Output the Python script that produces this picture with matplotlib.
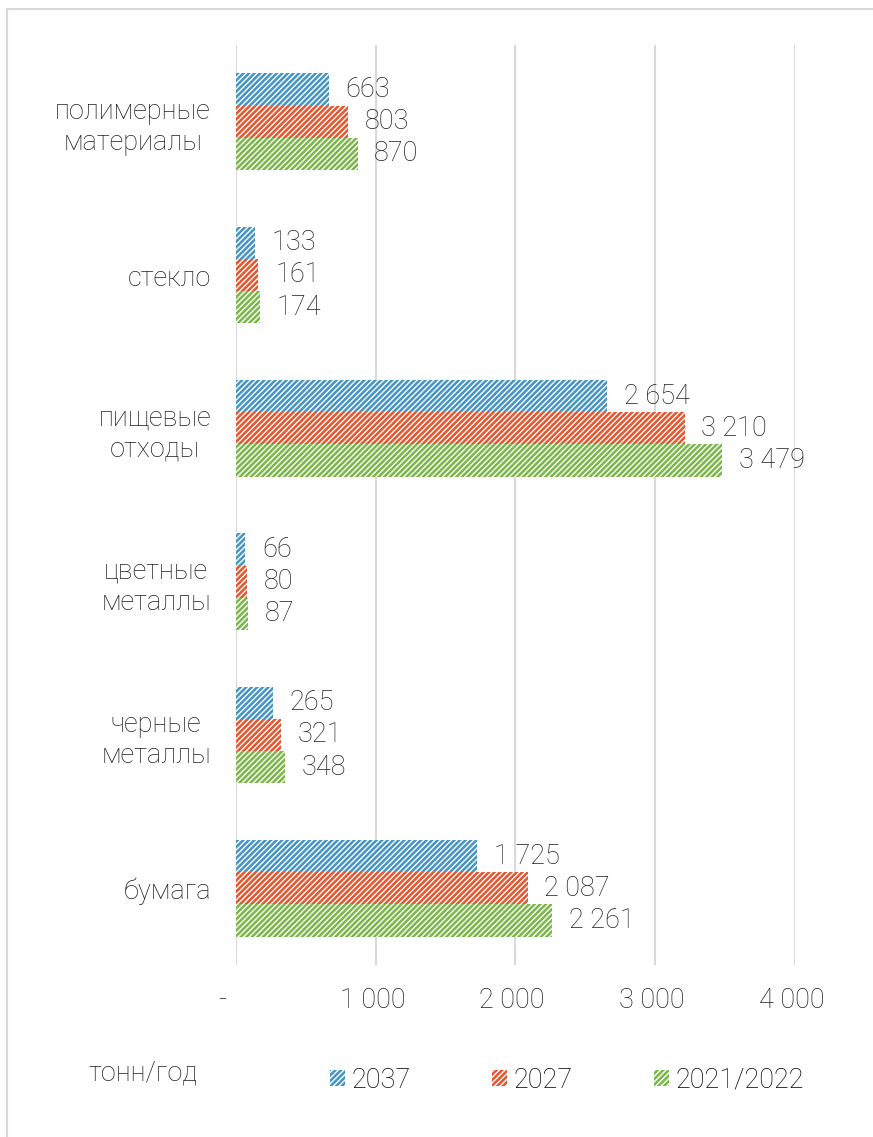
import matplotlib
matplotlib.use("Agg")
import matplotlib.pyplot as plt
import numpy as np
from matplotlib.patches import Patch, Rectangle

plt.rcParams['font.family'] = ['Roboto', 'DejaVu Sans']
plt.rcParams['font.weight'] = 'light'
plt.rcParams['hatch.linewidth'] = 1.8

categories = ["полимерные\nматериалы", "стекло", "пищевые\nотходы",
              "цветные\nметаллы", "черные\nметаллы", "бумага"]
series_names = ["2037", "2027", "2021/2022"]
values_2037 = [663, 133, 2654, 66, 265, 1725]
values_2027 = [803, 161, 3210, 80, 321, 2087]
values_2021 = [870, 174, 3479, 87, 348, 2261]
xticks = [0, 1000, 2000, 3000, 4000]
xtick_labels = ["-    ", "1 000 ", "2 000 ", "3 000 ", "4 000 "]
unit_label = "тонн/год"

colors = ["#4495c6", "#e8542b", "#7ab648"]
series = [values_2037, values_2027, values_2021]
FS = 19.5
TXT = "#1f1f1f"

def fmt(v):
    return f"{v:,}".replace(",", " ")

fig = plt.figure(figsize=(8.73, 11.37), dpi=100)
fig.patches.append(Rectangle((7/873, -0.05), 1.2, 1 - 9/1137 + 0.05, transform=fig.transFigure,
                             fill=False, edgecolor="#d9d9d9", linewidth=1.5, zorder=0))

ax = fig.add_axes([236/873, 1 - 965/1137, 559/873, 920/1137])
y = np.arange(len(categories))
h = 0.21
offsets = [-h, 0, h]
for vals, col, off, name in zip(series, colors, offsets, series_names):
    bars = ax.barh(y + off, vals, height=h, facecolor="white", edgecolor=col,
                   linewidth=0, hatch="//////", label=name, zorder=2)
    for b, v in zip(bars, vals):
        ax.annotate(fmt(v), (b.get_width(), b.get_y() + b.get_height() / 2),
                    xytext=(12, 0), textcoords="offset points", ha="left", va="center",
                    fontsize=FS, fontweight="light", color=TXT)

ax.set_ylim(len(categories) - 0.5, -0.5)
ax.set_xlim(0, 4000)
ax.set_yticks(y)
ax.set_yticklabels(categories, fontsize=FS, fontweight="light", color=TXT, multialignment="center")
ax.set_xticks(xticks)
ax.set_xticklabels(xtick_labels, fontsize=FS, fontweight="light", color=TXT)
ax.tick_params(axis="both", length=0)
ax.tick_params(axis="y", pad=18)
ax.tick_params(axis="x", pad=16)
ax.grid(axis="x", color="#d9d9d9", linewidth=1.5, zorder=0)
ax.set_axisbelow(True)
for s in ax.spines.values():
    s.set_visible(False)

handles = [Patch(facecolor="white", edgecolor=c, linewidth=0, hatch="//////") for c in colors]
fig.legend(handles, series_names, loc="center", bbox_to_anchor=(567/873, 1 - 1080/1137),
           ncol=3, frameon=False, handlelength=0.55, handleheight=0.55,
           handletextpad=0.25, columnspacing=3.0, prop={"size": FS, "weight": "light"})
fig.text(88/873, 1 - 1073/1137, unit_label, fontsize=FS, fontweight="light", color=TXT,
         ha="left", va="center")

fig.savefig("out.png", dpi=100)
